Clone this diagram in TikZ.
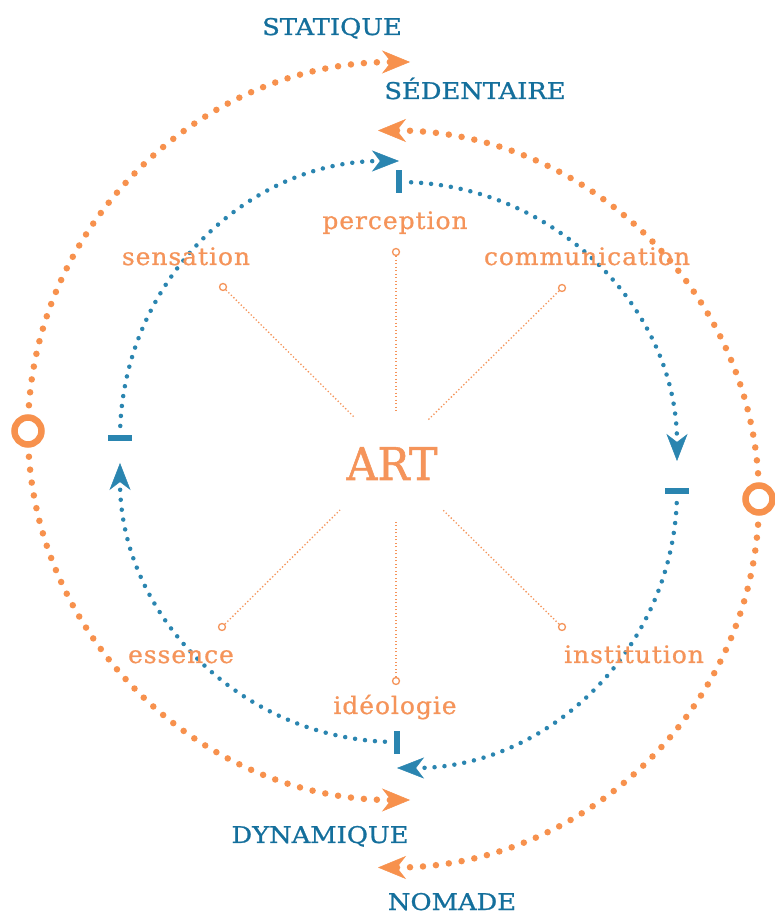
\documentclass[tikz,border=0pt]{standalone}
\usepackage{fontspec}
\setmainfont{DejaVu Serif}
\newfontfamily\labfont[LetterSpace=4,FakeStretch=1.04,FakeBold=0.8]{DejaVu Serif}
\newfontfamily\capfont[FakeStretch=1.12,FakeBold=1]{DejaVu Serif}
\newfontfamily\artfont[FakeStretch=0.95,FakeBold=1.2]{DejaVu Serif}
\usetikzlibrary{arrows.meta}
\definecolor{org}{HTML}{F7914D}
\definecolor{orgtxt}{HTML}{F5945A}
\definecolor{blu}{HTML}{2A85B0}
\definecolor{blutxt}{HTML}{146F9C}
\begin{document}
\begin{tikzpicture}[x=1pt,y=1pt,
  outerarc/.style={draw=org, line width=6.5pt, line cap=round, dash pattern=on 0pt off 13pt,
    -{Stealth[length=28pt,width=23pt,inset=9pt,line width=0.5pt,fill=org]}},
  innerarc/.style={draw=blu, line width=4.5pt, line cap=round, dash pattern=on 0pt off 10pt,
    -{Stealth[length=27pt,width=21pt,inset=8pt,line width=0.5pt,fill=blu]}},
  ring/.style={circle, draw=org, line width=6.5pt, fill=white, minimum size=27pt, inner sep=0pt},
  vbar/.style={fill=blu, minimum width=6pt, minimum height=23pt, inner sep=0pt},
  hbar/.style={fill=blu, minimum width=24pt, minimum height=6pt, inner sep=0pt},
  smallring/.style={circle, draw=orgtxt, line width=1.3pt, fill=white, minimum size=7pt, inner sep=0pt},
  spoke/.style={draw=orgtxt, line width=1.3pt, dash pattern=on 1.3pt off 2.2pt},
  captxt/.style={text=blutxt, font=\capfont\fontsize{23}{27}\selectfont, inner sep=0pt, anchor=base},
  labtxt/.style={text=orgtxt, font=\labfont\fontsize{24}{28}\selectfont, inner sep=0pt, anchor=base},
  arttxt/.style={text=orgtxt, font=\artfont\fontsize{45}{50}\selectfont, inner sep=0pt, anchor=base}
]
\useasboundingbox (0,0) rectangle (775,914);
\fill[white] (0,0) rectangle (775,914);

% centres of the arcs
\coordinate (oL) at (410,483);
\coordinate (oR) at (378,415);
\coordinate (b1) at (399,476);
\coordinate (b2) at (399,453);
\coordinate (b3) at (397,423);
\coordinate (b4) at (397,451);

% outer orange arcs
\path (oL) ++(176:382 and 369) coordinate (o1s);
\path (oL) ++(184:382 and 369) coordinate (o2s);
\path (oR) ++(4:381 and 368.5) coordinate (o3s);
\path (oR) ++(-4:381 and 368.5) coordinate (o4s);
\draw[outerarc] (o1s) arc[start angle=176, end angle=90, x radius=382, y radius=369];
\draw[outerarc] (o2s) arc[start angle=184, end angle=270, x radius=382, y radius=369];
\draw[outerarc] (o3s) arc[start angle=4, end angle=90, x radius=381, y radius=368.5];
\draw[outerarc] (o4s) arc[start angle=-4, end angle=-90, x radius=381, y radius=368.5];

\node[ring] (cL) at (28,483) {};
\node[ring] (cR) at (759,415) {};

% inner blue arcs
\path (b1) ++(177.5:279 and 277) coordinate (i1s);
\path (b2) ++(87.5:278 and 279) coordinate (i2s);
\path (b3) ++(-2.5:280 and 277) coordinate (i3s);
\path (b4) ++(267.5:277 and 279) coordinate (i4s);
\draw[innerarc] (i1s) arc[start angle=177.5, end angle=90, x radius=279, y radius=277];
\draw[innerarc] (i2s) arc[start angle=87.5, end angle=0, x radius=278, y radius=279];
\draw[innerarc] (i3s) arc[start angle=-2.5, end angle=-90, x radius=280, y radius=277];
\draw[innerarc] (i4s) arc[start angle=267.5, end angle=180, x radius=277, y radius=279];

\node[hbar] (barL) at (120,476) {};
\node[vbar] (barT) at (399,732.5) {};
\node[hbar] (barR) at (677,423) {};
\node[vbar] (barB) at (397,171.5) {};

% spokes
\coordinate (e1) at (396,502);
\coordinate (e2) at (355,496);
\coordinate (e3) at (428,494);
\coordinate (e4) at (340,404);
\coordinate (e5) at (396,392);
\coordinate (e6) at (443,404);
\node[smallring] (r1) at (396,662) {};
\node[smallring] (r2) at (223,627) {};
\node[smallring] (r3) at (562,626) {};
\node[smallring] (r4) at (222,287) {};
\node[smallring] (r5) at (396,233) {};
\node[smallring] (r6) at (562,287) {};
\draw[spoke] (r1) -- (e1);
\draw[spoke] (r2) -- (e2);
\draw[spoke] (r3) -- (e3);
\draw[spoke] (r4) -- (e4);
\draw[spoke] (r5) -- (e5);
\draw[spoke] (r6) -- (e6);

% labels
\node[arttxt] (art) at (392,434) {ART};
\node[labtxt] (perc) at (395,685) {perception};
\node[labtxt] (sens) at (186,649) {sensation};
\node[labtxt] (comm) at (587,649) {communication};
\node[labtxt] (ess) at (181,251) {essence};
\node[labtxt] (ideo) at (395,200) {idéologie};
\node[labtxt] (inst) at (634,251) {institution};

\node[captxt] (stat) at (332,879) {STATIQUE};
\node[captxt] (sed) at (475,815) {SÉDENTAIRE};
\node[captxt] (dyn) at (320,71) {DYNAMIQUE};
\node[captxt] (nom) at (452,4) {NOMADE};
\end{tikzpicture}
\end{document}
